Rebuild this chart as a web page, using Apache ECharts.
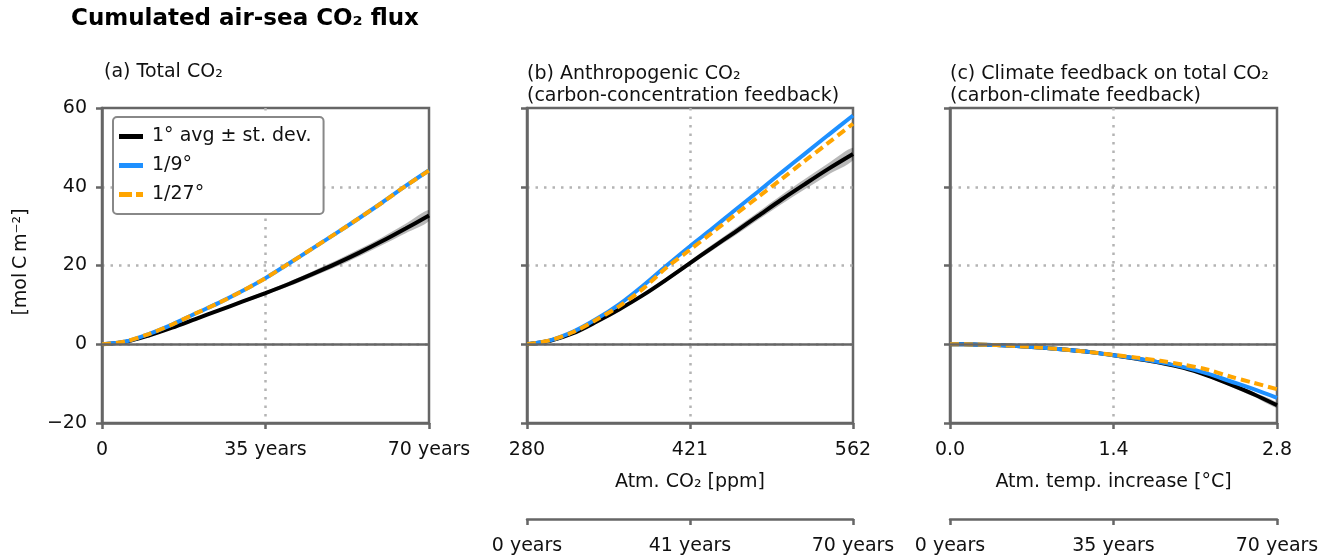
<!DOCTYPE html>
<html>
<head>
<meta charset="utf-8">
<script src="https://cdn.jsdelivr.net/npm/echarts@6/dist/echarts.min.js"></script>
<style>
html, body { margin: 0; padding: 0; background: #fff; }
#chart { width: 1331px; height: 557px; }
</style>
</head>
<body>
<div id="chart"></div>
<script>
// (a) total CO2, x = years
var yearsA = [0, 5, 10, 15, 20, 25, 30, 35, 40, 45, 50, 55, 60, 65, 70]
var avgA = [0, 0.6, 2.2, 4.2, 6.4, 8.6, 10.8, 13.0, 15.3, 17.8, 20.4, 23.2, 26.2, 29.4, 32.7]
var sdA = [0, 0.05, 0.1, 0.15, 0.2, 0.3, 0.4, 0.5, 0.6, 0.7, 0.8, 0.9, 1.0, 1.2, 1.4]
var nineA = [0, 0.7, 2.6, 5.0, 7.8, 10.5, 13.5, 16.8, 20.5, 24.3, 28.1, 32.0, 36.0, 40.2, 44.2]
var twentySevenA = [0, 0.7, 2.6, 5.0, 7.8, 10.5, 13.5, 16.8, 20.5, 24.3, 28.1, 32.0, 36.0, 40.2, 44.1]

// (b) anthropogenic CO2, x = atm. CO2 in ppm
var ppmB = [280, 300, 320, 340, 360, 380, 400, 421, 440, 460, 480, 500, 520, 540, 562]
var avgB = [0, 0.9, 2.8, 5.7, 8.9, 12.4, 16.3, 20.6, 24.5, 28.5, 32.6, 36.7, 40.6, 44.4, 48.3]
var sdB = [0, 0.05, 0.1, 0.15, 0.25, 0.35, 0.5, 0.6, 0.75, 0.9, 1.0, 1.15, 1.3, 1.45, 1.6]
var nineB = [0, 1.0, 3.2, 6.4, 10.2, 14.8, 19.8, 24.9, 29.3, 34.1, 38.8, 43.6, 48.3, 53.0, 58.1]
var twentySevenB = [0, 1.0, 3.1, 6.2, 9.7, 14.0, 19.3, 24.0, 28.3, 32.9, 37.4, 41.9, 46.5, 51.0, 56.0]

// (c) climate feedback, x = atm. temperature increase
var tempC = [0, 0.2, 0.4, 0.6, 0.8, 1.0, 1.2, 1.4, 1.6, 1.8, 2.0, 2.2, 2.4, 2.6, 2.8]
var avgC = [0, -0.05, -0.2, -0.5, -0.9, -1.4, -2.0, -2.8, -3.7, -4.7, -6.0, -7.9, -10.2, -12.7, -15.5]
var sdC = [0, 0, 0.02, 0.05, 0.08, 0.1, 0.15, 0.2, 0.25, 0.3, 0.35, 0.4, 0.5, 0.6, 0.7]
var nineC = [0, -0.05, -0.2, -0.5, -0.9, -1.4, -2.0, -2.8, -3.6, -4.6, -5.8, -7.4, -9.4, -11.4, -13.6]
var twentySevenC = [0, -0.05, -0.2, -0.5, -0.9, -1.4, -2.0, -2.7, -3.4, -4.2, -5.2, -6.4, -8.2, -9.8, -11.4]

// tick labels
var xLabelsA = ['0', '35 years', '70 years']
var xLabelsB = ['280', '421', '562']
var xLabelsC = ['0.0', '1.4', '2.8']
var yearLabelsB = ['0 years', '41 years', '70 years']
var yearLabelsC = ['0 years', '35 years', '70 years']

var FONT = '"DejaVu Sans", sans-serif'
var FRAME = '#666'
var TXT = '#111'
var FS = 19
var DOTS = { color: '#b4b4b4', width: 2.5, type: [2.5, 6] }

var grids = [
    { left: 102, top: 108, width: 327, height: 315 },
    { left: 527, top: 108, width: 326, height: 315 },
    { left: 950, top: 108, width: 327, height: 315 },
]

function pairs(xs, ys, shift) {
    return xs.map((x, i) => [x - shift, ys[i]])
}

function xAxisBase(idx, max, interval, labels) {
    return {
        gridIndex: idx,
        type: 'value',
        min: 0,
        max: max,
        interval: interval,
        position: 'bottom',
        axisLine: { show: true, onZero: false, lineStyle: { color: FRAME, width: 2.5 } },
        axisTick: { show: true, length: 6, lineStyle: { color: FRAME, width: 2.5 } },
        axisLabel: {
            margin: 18,
            fontSize: FS,
            fontFamily: FONT,
            color: TXT,
            formatter: v => labels[Math.round(v / interval)],
        },
    }
}

var xAxes = []
var yAxes = []
var series = []

// one panel: band (avg ± sd), avg, 1/9°, 1/27°
function panel(idx, xs, shift, avg, sd, nine, twentySeven, xMax, xInterval, xLabels, xName, yearLabels) {
    var ax = xAxisBase(idx, xMax, xInterval, xLabels)
    ax.splitLine = { show: true, showMinLine: false, showMaxLine: false, lineStyle: DOTS }
    if (xName) {
        ax.name = xName
        ax.nameLocation = 'middle'
        ax.nameGap = 50
        ax.nameTextStyle = { fontSize: FS, fontFamily: FONT, color: TXT }
    }
    xAxes.push(ax)
    var primaryIndex = xAxes.length - 1
    if (yearLabels) {
        var sec = xAxisBase(idx, xMax, xInterval, yearLabels)
        sec.offset = 96
        sec.splitLine = { show: false }
        xAxes.push(sec)
    }
    yAxes.push({
        gridIndex: idx,
        type: 'value',
        min: -20,
        max: 60,
        interval: 20,
        axisLine: { show: true, onZero: false, lineStyle: { color: FRAME, width: 2.5 } },
        axisTick: { show: true, length: 6, lineStyle: { color: FRAME, width: 2.5 } },
        axisLabel: {
            show: idx === 0,
            margin: 15,
            fontSize: FS,
            fontFamily: FONT,
            color: TXT,
            formatter: v => (v < 0 ? '\u2212' + Math.abs(v) : String(v)),
        },
        splitLine: { show: true, showMinLine: false, showMaxLine: false, lineStyle: DOTS },
    })
    var common = {
        type: 'line',
        xAxisIndex: primaryIndex,
        yAxisIndex: idx,
        symbol: 'none',
        showSymbol: false,
        smooth: 0.3,
        silent: true,
    }
    // st. dev. band as one polygon through the axis scales
    var bandRows = xs.map((x, i) => [x - shift, avg[i] - sd[i], avg[i] + sd[i]])
    series.push({
        type: 'custom',
        name: 'band' + idx,
        xAxisIndex: primaryIndex,
        yAxisIndex: idx,
        silent: true,
        clip: true,
        data: bandRows,
        encode: { x: 0, y: [1, 2] },
        renderItem: (params, api) => {
            if (params.dataIndex !== 0) return null
            var top = [], bottom = []
            bandRows.forEach(r => {
                top.push(api.coord([r[0], r[2]]))
                bottom.unshift(api.coord([r[0], r[1]]))
            })
            return {
                type: 'polygon',
                shape: { points: top.concat(bottom), smooth: 0.3 },
                style: { fill: 'rgba(0,0,0,0.28)', stroke: null },
            }
        },
        markLine: {
            silent: true,
            symbol: 'none',
            label: { show: false },
            lineStyle: { color: FRAME, width: 2.5, type: 'solid' },
            data: [{ yAxis: 0 }],
        },
    })
    series.push(Object.assign({}, common, {
        name: '1° avg ± st. dev.',
        data: pairs(xs, avg, shift),
        color: '#000',
        lineStyle: { color: '#000', width: 4 },
    }))
    series.push(Object.assign({}, common, {
        name: '1/9°',
        data: pairs(xs, nine, shift),
        color: '#1E90FF',
        lineStyle: { color: '#1E90FF', width: 4 },
    }))
    series.push(Object.assign({}, common, {
        name: '1/27°',
        data: pairs(xs, twentySeven, shift),
        color: '#FFA500',
        lineStyle: { color: '#FFA500', width: 4, type: [9, 5] },
    }))
}

panel(0, yearsA, 0, avgA, sdA, nineA, twentySevenA, 70, 35, xLabelsA, null, null)
panel(1, ppmB, 280, avgB, sdB, nineB, twentySevenB, 282, 141, xLabelsB, 'Atm. CO\u2082 [ppm]', yearLabelsB)
panel(2, tempC, 0, avgC, sdC, nineC, twentySevenC, 2.8, 1.4, xLabelsC, 'Atm. temp. increase [°C]', yearLabelsC)

var myChart = echarts.init(document.getElementById('chart'))
var option = {
    animation: false,
    backgroundColor: '#fff',
    grid: grids.map(g => Object.assign({ show: true, borderColor: FRAME, borderWidth: 2.5 }, g)),
    xAxis: xAxes,
    yAxis: yAxes,
    legend: {
        data: [
            { name: '1° avg ± st. dev.', icon: 'rect' },
            { name: '1/9°', icon: 'rect' },
            { name: '1/27°', icon: 'path://M0,0H13V5H0Z M17,0H24V5H17Z' },
        ],
        orient: 'vertical',
        left: 113,
        top: 117,
        padding: [10, 12, 10, 6],
        itemGap: 10,
        itemWidth: 24,
        itemHeight: 5,
        backgroundColor: '#fff',
        borderColor: '#888',
        borderWidth: 2,
        borderRadius: 4,
        textStyle: { fontSize: FS, fontFamily: FONT, color: TXT, padding: [0, 0, 0, 4] },
    },
    graphic: [
        {
            type: 'text',
            left: 71,
            top: 8,
            style: { text: 'Cumulated air-sea CO\u2082 flux', font: 'bold 23px ' + FONT, fill: '#000' },
        },
        {
            type: 'text',
            left: 104,
            top: 63,
            style: { text: '(a) Total CO\u2082', font: FS + 'px ' + FONT, fill: TXT },
        },
        {
            type: 'text',
            left: 527,
            top: 63,
            style: {
                text: '(b) Anthropogenic CO\u2082\n(carbon-concentration feedback)',
                font: FS + 'px ' + FONT,
                fill: TXT,
                lineHeight: 22,
            },
        },
        {
            type: 'text',
            left: 950,
            top: 63,
            style: {
                text: '(c) Climate feedback on total CO\u2082\n(carbon-climate feedback)',
                font: FS + 'px ' + FONT,
                fill: TXT,
                lineHeight: 22,
            },
        },
        {
            type: 'text',
            x: 21,
            y: 262,
            rotation: Math.PI / 2,
            style: {
                text: '[mol\u2009C\u2009m\u207B\u00B2]',
                font: FS + 'px ' + FONT,
                fill: TXT,
                align: 'center',
                verticalAlign: 'middle',
            },
        },
    ],
    series: series,
}
myChart.setOption(option)
</script>
</body>
</html>
